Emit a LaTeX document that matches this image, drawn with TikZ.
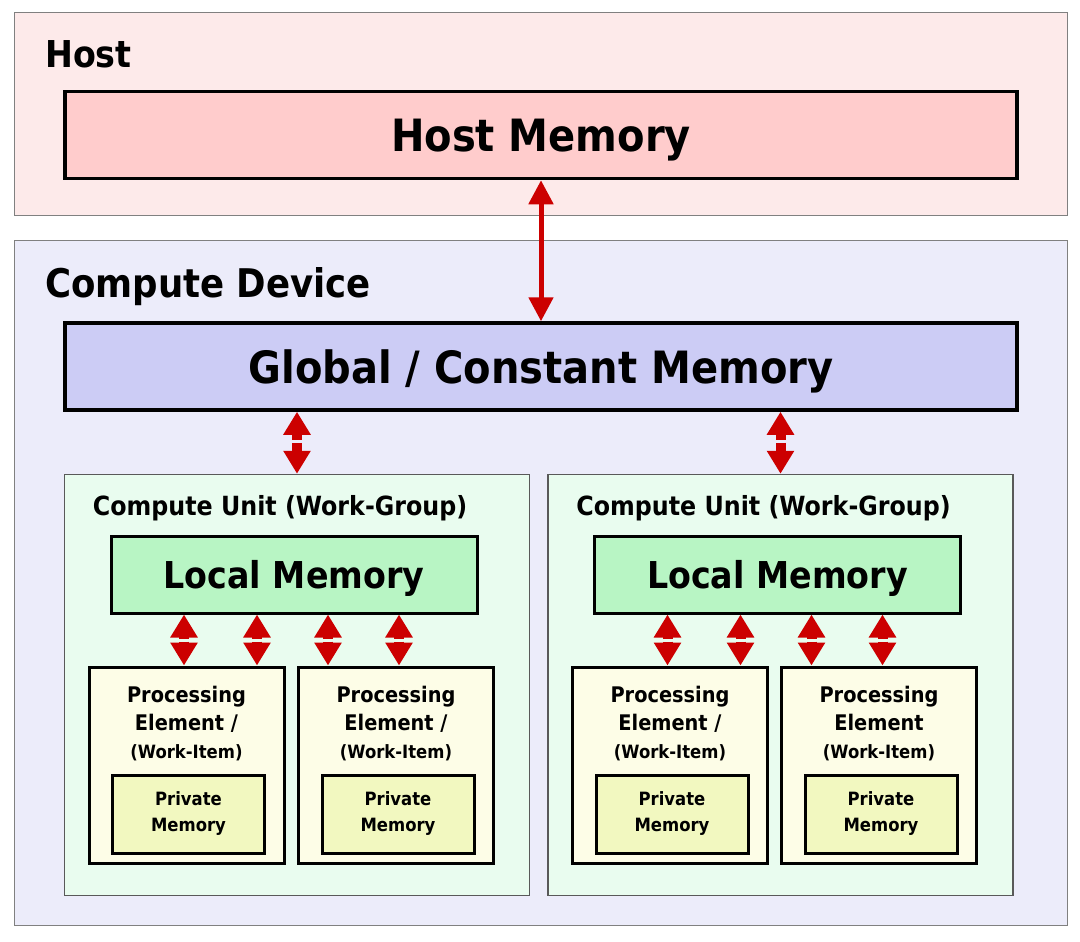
\documentclass[tikz,border=0pt]{standalone}
\usepackage{fontspec}
\setmainfont{DejaVu Sans Condensed}
\usepackage{tikz}
\usetikzlibrary{positioning}
\usetikzlibrary{arrows.meta}

\definecolor{hostbg}{HTML}{FDEAEA}
\definecolor{hostmemfill}{HTML}{FFCCCC}
\definecolor{devbg}{HTML}{ECECFA}
\definecolor{globfill}{HTML}{CCCCF5}
\definecolor{cubg}{HTML}{E9FCEF}
\definecolor{locfill}{HTML}{B8F5C4}
\definecolor{pebg}{HTML}{FDFDE7}
\definecolor{privfill}{HTML}{F2F8C0}
\definecolor{arrowred}{HTML}{CC0000}

\newcommand{\dfont}[2]{\fontsize{#1pt}{#2pt}\selectfont\bfseries}

\begin{document}
\begin{tikzpicture}[x=1pt,y=-1pt,
    every node/.style={inner sep=0pt},
    area/.style={draw=black!50,line width=1.5pt,minimum width=1053pt},
    mem/.style={draw=black,line width=3.5pt,minimum width=952pt,minimum height=87pt,text depth=0pt,font=\dfont{44.5}{50}},
    unit/.style={draw=black!65,line width=1.5pt,fill=cubg,minimum width=465pt,minimum height=421pt},
    local/.style={draw=black,line width=3pt,fill=locfill,minimum width=366pt,minimum height=77pt,text depth=0pt,font=\dfont{37}{40}},
    pebox/.style={draw=black,line width=3pt,fill=pebg,minimum width=195pt,minimum height=196pt},
    petext/.style={align=center,font=\dfont{21.5}{28}},
    priv/.style={draw=black,line width=3pt,fill=privfill,minimum width=152pt,minimum height=78pt,align=center,font=\dfont{18.3}{26}},
    bigarrow/.style={draw=arrowred,line width=5pt,{Triangle[width=24pt,length=24pt]}-{Triangle[width=24pt,length=24pt]}},
    smallarrow/.style={draw=arrowred,line width=10pt,dash pattern=on #1 off 2.5pt on 40pt,{Triangle[width=26pt,length=23pt]}-{Triangle[width=26pt,length=23pt]}}
]
    \useasboundingbox (0,0) rectangle (1080,942);

    % host side
    \node[area,fill=hostbg,minimum height=203pt] (host) at (541,114) {};
    \node[anchor=base west,font=\dfont{37}{40}] (hostlbl) at (45,67) {Host};
    \node[mem,fill=hostmemfill] (hostmem) at (541,135) {Host Memory};

    % device side
    \node[area,fill=devbg,minimum height=685pt] (device) at (541,583) {};
    \node[anchor=base west,font=\dfont{39.5}{42}] (devlbl) at (45,297) {Compute Device};
    \node[mem,fill=globfill] (globalmem) at (541,366.5) {Global / Constant Memory};

    \draw[bigarrow] (hostmem.south) -- (globalmem.north);

    \foreach \i/\x in {1/297,2/780.5} {
        \node[unit] (cu\i) at (\x,685) {};
        \node[anchor=base west,font=\dfont{26.4}{30}] (cul\i) at ([xshift=29pt,yshift=-42pt]cu\i.north west) {Compute Unit (Work-Group)};
        \node[local] (lm\i) at (\x-3,574.5) {Local Memory};
        \draw[smallarrow=7pt] (globalmem.south -| cu\i.north) -- (cu\i.north);
    }

    \foreach \i/\j/\x in {1/1/186.5,1/2/396,2/1/670,2/2/879} {
        \node[pebox] (pe\i\j) at (\x,765) {};
        \node[petext,below=20pt of pe\i\j.north] (pet\i\j)
            {Processing\\Element\ifnum\i\j=22 \else\ /\fi\\{\dfont{18.3}{26}(Work-Item)}};
        \node[priv] (pm\i\j) at (\x+2,814) {Private\\Memory};
    }

    \foreach \i in {1,2}
        \foreach \dx/\j in {-110/1,-37/1,34/2,105/2}
            \draw[smallarrow=3pt] ([xshift=\dx pt]lm\i.south) -- ([xshift=\dx pt]lm\i.south |- pe\i\j.north);
\end{tikzpicture}
\end{document}
